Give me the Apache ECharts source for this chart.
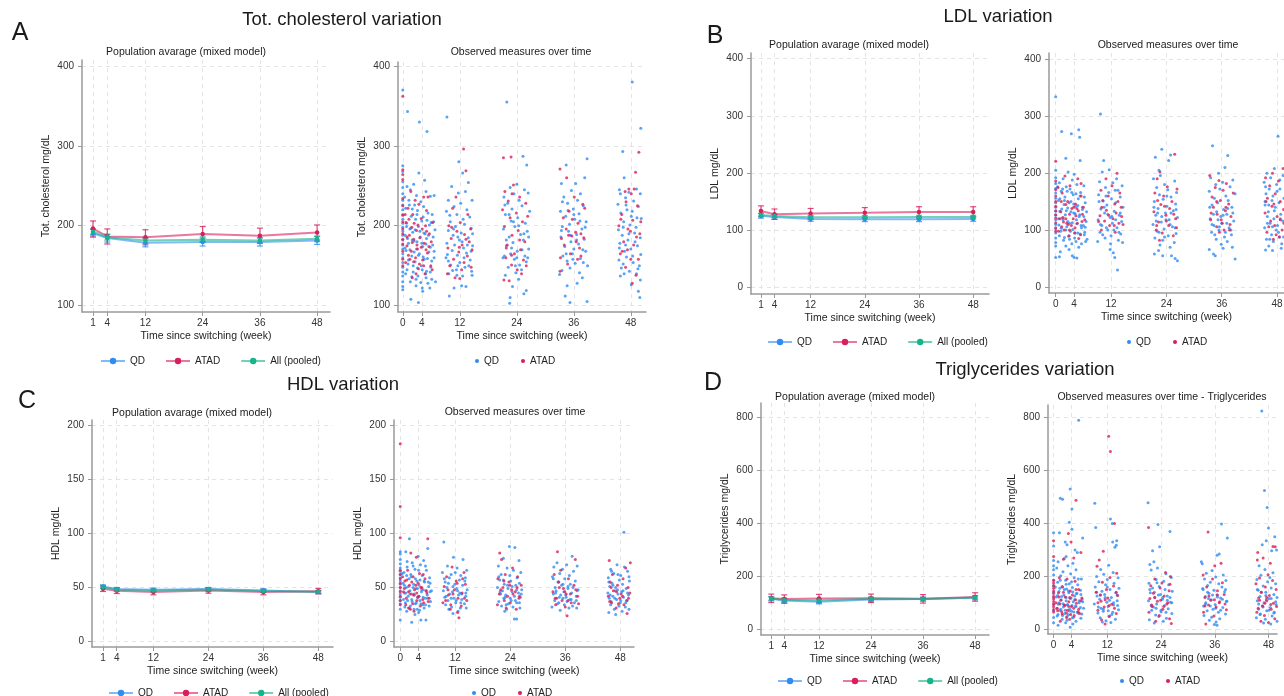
<!DOCTYPE html>
<html>
<head>
<meta charset="utf-8">
<title>Lipid variation</title>
<script src="https://cdn.jsdelivr.net/npm/echarts@6.0.0/dist/echarts.min.js"></script>
<style>
  html, body { margin: 0; padding: 0; background: #fff; }
  #chart { width: 1284px; height: 696px; }
</style>
</head>
<body>
<div id="chart"></div>
<script>
// ---- data ----
const weeksModel = [1, 4, 12, 24, 36, 48];
const ticksModel = [1, 4, 12, 24, 36, 48];
const ticksObs = [0, 4, 12, 24, 36, 48];
const groups = ['QD', 'ATAD', 'All (pooled)'];

// mixed model means and CI half widths (QD, ATAD, All)
const tcQD = [190, 184, 178, 179, 179, 181];
const tcATAD = [196, 186, 185, 189, 187, 191];
const tcAll = [192, 185, 181, 182, 181, 183];
const tcCi = [5, 9.5, 3.5];

const ldlQD = [125, 123, 119.5, 119, 119, 119.5];
const ldlATAD = [133.5, 128, 129, 130.5, 132, 132];
const ldlAll = [126.5, 125, 122.5, 122.5, 123, 123];
const ldlCi = [4, 9, 3];

const hdlQD = [50.8, 48.4, 47.8, 48.4, 47.2, 45.6];
const hdlATAD = [48.7, 46.8, 45.6, 47.1, 45.6, 46.5];
const hdlAll = [50.2, 47.9, 47, 48, 46.6, 45.9];
const hdlCi = [1.5, 2.5, 1.2];

const tgQD = [114, 108, 103, 112, 113, 118];
const tgATAD = [116, 113, 115, 116, 114, 121];
const tgAll = [115, 110, 108, 114, 113, 119];
const tgCi = [8, 16, 6];

// observed measures [week, value]
const tcObsQD = [
  [0,370],[0,275],[0,268],[0,255],[0,248],[0,240],[0,232],[0,226],[0,220],[0,214],[0,208],[0,203],[0,198],[0,193],[0,188],[0,182],[0,176],[0,171],[0,165],[0,160],[0,154],[0,148],[0,142],[0,137],[0,130],[0,124],[0,120],
  [1.0,343],[3.5,330],[5.1,318],[3.4,266],[4.6,257],[2.3,252],[0.9,249],[1.6,245],[4.9,243],[2.9,238],[5.8,237],[6.6,238],[1.3,232],[3.8,230],[2.5,226],[4.4,224],[0.6,222],[3.1,219],[5.3,216],[6.2,214],[1.8,212],[2.7,208],[4.0,206],[0.8,203],[5.6,201],[3.3,199],[1.5,196],[6.8,195],[2.1,192],[4.7,190],[0.5,188],[3.7,186],[5.0,184],[2.4,181],[1.2,178],[6.3,176],[4.2,174],[2.9,171],[0.7,169],[5.5,167],[3.5,165],[1.9,162],[6.6,160],[4.5,158],[2.6,155],[1.1,152],[3.9,150],[5.9,148],[0.9,145],[2.2,142],[4.8,140],[3.2,137],[6.1,133],[1.6,130],[5.3,128],[2.8,125],[4.1,122],[6.9,130],[1.7,108],[3.3,104],[4.2,118],[5.7,122],
  [0.4,236],[1.4,226],[2.0,221],[3.0,214],[4.3,211],[5.1,207],[6.0,204],[0.8,199],[1.7,197],[2.6,195],[3.6,193],[4.5,191],[5.4,188],[6.4,186],[1.0,184],[2.0,182],[3.0,180],[4.0,178],[4.9,177],[5.8,173],[0.5,172],[1.5,170],[2.4,167],[3.3,163],[4.3,161],[5.2,159],[6.1,156],[1.2,157],[2.2,150],[3.1,147],[4.1,145],[5.0,143],[0.6,140],[1.9,136],[2.8,133],[3.8,129],[4.9,135],[5.8,142],[6.6,168],[6.5,205],
  [9.3,336],[11.8,280],[12.6,266],[13.8,254],[10.3,249],[13.2,243],[11.7,241],[9.6,232],[14.6,232],[12.2,228],[10.8,224],[13.5,220],[9.2,218],[11.4,214],[14.1,211],[12.7,208],[10.0,205],[13.0,202],[11.1,199],[14.4,197],[9.6,194],[12.3,191],[10.6,188],[13.8,185],[11.9,182],[9.3,178],[14.7,175],[12.8,172],[10.4,169],[13.4,166],[11.5,163],[9.1,160],[14.2,157],[12.0,154],[10.1,151],[13.1,148],[11.3,145],[14.5,143],[9.7,140],[12.6,137],[10.8,122],[9.8,112],[13.3,124],[12.4,125],[14.6,138],[9.4,164],[10.9,176],[11.6,150],
  [9.9,213],[10.7,196],[11.6,186],[12.5,180],[13.6,176],[14.4,168],[9.6,156],[10.5,144],[11.4,138],[12.9,160],[13.9,150],[14.7,190],
  [21.9,355],[25.3,287],[26.1,276],[24.0,252],[22.6,248],[25.6,245],[23.4,240],[21.3,236],[26.4,241],[24.5,232],[22.1,228],[25.1,225],[23.0,221],[26.7,218],[21.6,214],[24.2,210],[22.8,206],[25.8,203],[23.6,199],[21.2,196],[26.2,193],[24.8,189],[22.4,186],[25.4,182],[23.2,179],[21.8,175],[26.5,171],[24.1,168],[22.7,165],[25.7,162],[23.5,158],[21.4,162],[26.0,155],[24.6,151],[22.2,148],[25.0,145],[23.8,141],[21.6,138],[24.4,133],[22.5,103],[22.6,110],[25.5,115],[26.0,119],[23.1,124],[21.1,160],
  [21.5,226],[22.4,214],[23.3,205],[24.4,200],[25.5,190],[26.5,186],[21.8,182],[22.9,172],[24.0,160],[25.1,170],[26.3,160],[23.7,150],
  [38.8,284],[34.4,276],[33.4,253],[36.4,253],[38.3,260],[35.5,244],[37.4,240],[33.9,236],[36.8,232],[34.7,228],[38.0,225],[35.9,221],[33.2,218],[37.1,215],[34.3,212],[36.2,208],[38.6,205],[35.1,202],[33.6,199],[37.7,196],[34.9,193],[36.6,189],[33.3,186],[38.2,183],[35.4,180],[37.0,177],[34.1,174],[36.0,171],[38.5,168],[35.7,165],[33.7,162],[37.4,159],[34.6,156],[36.3,153],[38.9,150],[35.2,147],[33.5,144],[37.2,141],[34.6,125],[36.7,128],[35.2,104],[34.2,112],[38.8,105],[37.8,135],[33.0,139],
  [33.6,230],[34.8,219],[36.0,214],[37.3,206],[38.4,198],[33.4,194],[35.3,188],[36.6,182],[37.9,170],[34.4,165],[35.8,158],[38.0,154],
  [48.3,380],[50.1,322],[46.3,293],[46.6,260],[49.2,246],[45.6,245],[47.6,242],[50.0,240],[46.9,235],[48.6,231],[45.3,227],[49.6,224],[47.2,220],[45.9,216],[48.1,212],[50.2,209],[46.5,205],[47.8,201],[49.1,198],[45.4,195],[48.8,191],[46.2,188],[50.0,185],[47.4,182],[45.7,178],[49.4,175],[48.0,171],[46.7,168],[50.1,164],[47.1,161],[45.5,157],[48.5,154],[49.8,150],[46.0,147],[47.7,143],[45.8,137],[49.2,140],[49.9,110],[49.6,118],[48.1,126],[50.0,132],[46.4,152],
  [45.8,240],[47.0,226],[48.3,218],[49.3,210],[46.4,198],[47.6,190],[48.9,180],[45.6,172],[46.9,176],[48.4,162],[49.5,146],[46.6,140]
];
const tcObsATAD = [
  [0,362],[0,270],[0,264],[0,258],[0,234],[0,225],[0,213],[0,205],[0,196],[0,190],[0,183],[0,177],[0,168],[0,158],[0,150],
  [1.7,243],[4.4,236],[5.3,236],[2.6,232],[3.4,227],[1.1,222],[5.0,219],[2.1,214],[3.9,209],[0.7,204],[4.8,200],[1.9,198],[2.9,194],[5.6,190],[1.4,188],[3.6,185],[2.3,183],[4.5,178],[0.9,175],[3.1,171],[5.2,166],[1.8,168],[2.7,160],[4.2,157],[5.9,150],[1.5,158],[3.3,146],[2.0,135],[4.7,140],[6.2,145],
  [0.5,214],[1.3,208],[2.4,203],[3.2,201],[4.1,196],[5.0,193],[6.0,180],[0.9,186],[2.0,179],[3.0,176],[3.9,173],[4.9,170],[1.2,163],[2.3,155],[3.5,152],[4.4,150],[5.5,174],[0.6,154],[2.8,140],[6.3,204],
  [12.8,296],[13.3,269],[11.2,236],[10.5,222],[13.7,214],[12.1,204],[9.7,200],[14.3,196],[11.4,193],[13.0,189],[10.2,184],[14.0,180],[12.5,176],[9.5,172],[11.8,167],[13.6,162],[10.7,158],[12.9,154],[14.4,148],[11.0,135],[12.0,134],[9.4,140],
  [10.3,198],[11.9,173],[13.3,183],[14.6,170],[9.9,150],[12.4,145],
  [21.2,285],[22.8,286],[23.3,251],[21.5,243],[24.6,236],[22.2,231],[25.9,228],[21.0,220],[23.9,216],[22.6,210],[25.2,205],[21.4,199],[24.3,194],[23.0,188],[25.7,180],[22.0,176],[24.8,170],[23.5,165],[21.7,160],[25.4,157],[22.9,151],[24.1,145],[21.3,132],[22.4,131],[26.0,150],
  [23.0,240],[26.3,212],[24.6,182],[21.8,172],[22.9,163],[25.0,140],
  [33.1,271],[34.5,260],[36.1,236],[37.9,227],[35.0,218],[33.8,210],[36.9,203],[34.4,196],[37.5,190],[35.6,187],[33.4,184],[36.5,180],[34.0,176],[37.2,172],[35.3,165],[33.2,160],[36.8,158],[34.7,152],[33.1,143],
  [38.3,222],[35.7,208],[36.4,192],[34.9,188],[38.1,185],[37.5,162],
  [49.7,292],[49.0,267],[47.6,246],[48.7,246],[46.8,243],[47.0,230],[49.4,225],[46.1,214],[48.4,207],[50.1,205],[45.5,200],[47.9,193],[49.2,186],[46.5,180],[48.6,176],[47.3,170],[45.8,165],[49.6,158],[46.9,148],[48.3,128],[49.1,138],
  [48.1,240],[45.9,208],[47.4,196],[49.9,190],[46.2,168],[48.0,158]
];

const ldlObsQD = [
  [0,334],[0,205],[0,192],[0,182],[0,173],[0,165],[0,156],[0,148],[0,140],[0,133],[0,126],[0,118],[0,110],[0,102],[0,95],[0,86],[0,78],[0,72],[0,52],
  [1.3,273],[3.4,269],[5.0,276],[5.2,263],[2.2,226],[5.3,222],[2.7,202],[4.0,198],[1.6,190],[3.6,188],[0.8,183],[4.6,180],[2.3,176],[6.1,178],[3.1,172],[1.2,168],[5.4,166],[3.8,162],[2.0,158],[4.9,155],[0.6,152],[3.3,150],[6.4,148],[1.8,145],[4.3,142],[2.6,139],[5.8,136],[0.9,133],[3.9,130],[2.1,127],[5.1,124],[1.4,121],[4.5,118],[6.6,115],[3.0,112],[0.7,109],[2.4,106],[5.6,104],[3.7,101],[1.1,98],[4.8,95],[6.2,92],[2.8,89],[4.1,86],[1.7,82],[6.5,80],[3.5,76],[2.2,72],[5.0,70],[1.0,62],[0.8,53],[3.6,55],[4.0,52],[4.6,51],[2.9,66],[6.8,84],[6.0,108],
  [0.4,176],[1.5,172],[2.5,168],[3.5,166],[4.4,164],[5.3,160],[6.2,158],[0.9,155],[1.9,152],[2.9,148],[3.9,146],[4.8,143],[5.8,140],[1.3,137],[2.3,134],[3.3,132],[4.2,129],[5.2,127],[6.1,124],[0.6,120],[1.6,118],[2.6,115],[3.6,113],[4.6,111],[5.5,108],[6.4,105],[1.2,103],[2.2,100],[3.2,98],[4.2,95],[5.3,93],[0.8,90],[1.9,87],[3.0,84],[4.4,80],[5.6,76],[6.3,96],[6.7,132],
  [9.7,304],[10.4,222],[11.6,206],[10.1,202],[13.2,190],[9.5,185],[12.4,183],[14.4,178],[10.8,175],[13.5,170],[11.5,166],[9.3,162],[14.0,158],[12.1,155],[10.3,151],[13.0,148],[11.1,144],[14.6,140],[9.8,137],[12.7,133],[10.6,130],[13.8,126],[11.8,122],[9.2,118],[14.3,115],[12.3,112],[10.0,108],[13.3,104],[11.3,100],[9.6,96],[14.1,93],[12.0,90],[10.7,86],[13.6,82],[9.1,80],[11.9,76],[12.5,60],[12.8,52],[13.4,30],[11.8,66],[14.5,78],[10.2,92],
  [9.4,150],[10.5,140],[11.3,128],[12.2,124],[13.0,118],[14.0,130],[9.7,110],[11.0,104],[12.6,100],[13.7,96],[10.9,160],[12.9,170],
  [23.0,242],[24.9,232],[24.5,222],[21.6,228],[22.4,205],[22.7,196],[21.2,190],[25.8,186],[23.6,180],[21.9,175],[24.3,171],[26.2,166],[22.5,162],[25.0,158],[23.3,154],[21.4,150],[26.0,146],[24.1,142],[22.2,138],[25.5,134],[23.8,130],[21.7,126],[26.4,122],[24.6,118],[22.9,114],[21.1,110],[25.3,106],[23.5,102],[22.0,98],[26.1,94],[24.4,90],[21.5,86],[23.2,82],[25.7,78],[22.6,74],[24.8,70],[21.4,58],[23.2,55],[25.1,55],[25.9,50],[26.4,46],[22.3,64],
  [21.3,140],[22.1,130],[23.0,124],[23.9,118],[24.8,110],[25.9,104],[22.4,96],[23.6,88],[25.0,130],[26.1,136],[21.8,116],[24.1,160],
  [34.0,248],[37.3,231],[36.7,210],[35.3,200],[33.6,192],[38.4,188],[36.2,184],[34.7,180],[37.8,176],[35.6,172],[33.3,168],[38.9,164],[36.9,160],[34.4,156],[37.4,152],[35.1,148],[33.9,144],[38.2,140],[36.4,136],[34.9,132],[37.1,128],[35.8,124],[33.5,120],[38.6,116],[36.0,112],[34.3,108],[37.6,104],[35.4,100],[33.8,96],[38.1,92],[36.6,88],[34.8,84],[37.2,80],[35.9,75],[38.3,70],[38.9,49],[33.3,66],[34.2,58],[34.6,55],[36.3,68],
  [33.4,140],[34.2,128],[35.2,118],[36.3,126],[37.3,138],[38.4,130],[33.9,110],[35.5,106],[37.1,112],[38.0,100],[34.5,92],[36.8,96],
  [48.2,265],[50.0,218],[47.4,208],[45.8,200],[49.3,196],[46.6,192],[48.6,188],[45.2,184],[47.9,180],[49.7,176],[46.3,172],[48.0,168],[45.6,164],[47.1,160],[49.5,156],[46.9,152],[48.4,148],[45.4,144],[47.6,140],[49.9,136],[46.1,132],[48.8,128],[45.9,124],[47.3,120],[49.2,116],[46.5,112],[48.1,108],[45.3,104],[47.8,100],[49.6,96],[46.8,92],[48.5,88],[45.7,84],[47.2,80],[49.0,76],[46.2,72],[48.9,68],[45.5,65],[47.0,64],[50.1,74],
  [45.4,150],[46.2,144],[47.4,134],[48.7,120],[49.6,140],[45.9,112],[47.0,106],[48.3,96],[49.4,88],[46.4,84],[45.5,176],[48.6,172]
];
const ldlObsATAD = [
  [0,221],[0,186],[0,171],[0,160],[0,150],[0,142],[0,134],[0,127],[0,121],[0,113],[0,104],[0,98],
  [2.0,195],[4.8,190],[5.5,182],[3.1,178],[1.4,165],[5.5,160],[2.6,150],[4.3,146],[3.9,140],[1.1,132],[4.4,125],[2.2,120],[5.7,115],[3.4,108],[1.8,100],[4.1,95],[2.9,90],[5.0,85],[0.6,98],[6.3,118],[3.0,128],[1.6,122],[2.4,112],[4.6,138],
  [0.5,175],[1.2,150],[2.2,145],[3.5,138],[4.9,134],[6.0,140],[0.9,120],[1.7,114],[2.7,110],[3.8,120],[4.7,112],[5.8,128],[1.3,106],[3.0,100],[4.2,104],[5.4,92],
  [13.3,200],[10.9,190],[12.2,178],[9.8,170],[13.9,165],[11.4,160],[10.2,152],[12.8,146],[14.2,140],[11.0,135],[13.1,130],[9.6,125],[12.4,120],[10.6,116],[13.7,112],[11.7,108],[9.9,100],[12.9,96],[14.6,110],
  [10.0,140],[11.5,126],[13.5,150],[12.7,108],[14.3,124],[9.3,115],
  [25.8,233],[22.6,202],[22.0,190],[24.2,176],[26.3,172],[21.5,165],[23.4,160],[25.2,150],[22.8,145],[24.7,138],[21.3,132],[23.9,126],[26.0,120],[22.3,114],[24.5,108],[21.8,100],[23.1,95],[25.5,90],[22.5,82],
  [22.1,152],[23.6,142],[25.6,128],[24.0,116],[21.9,108],[26.2,104],
  [33.4,196],[35.4,187],[37.0,182],[34.6,175],[36.3,170],[38.5,165],[33.9,158],[35.7,152],[37.5,146],[34.2,140],[36.8,134],[35.0,128],[38.0,124],[33.6,118],[36.1,112],[34.9,106],[37.7,100],[35.5,96],
  [34.9,150],[36.9,140],[33.7,130],[35.9,118],[37.8,110],[36.5,100],
  [49.3,208],[47.0,200],[45.5,192],[48.3,186],[46.4,178],[49.8,170],[47.6,164],[45.9,156],[48.7,150],[46.9,142],[49.4,136],[45.4,130],[48.0,124],[46.6,116],[47.5,108],[49.1,100],[45.8,96],[48.5,88],[47.2,84],[49.9,80],
  [45.6,150],[47.3,146],[48.7,118],[46.2,106],[49.5,112],[47.8,92]
];

const hdlObsQD = [
  [0,83],[0,81],[0,76],[0,72],[0,68],[0,65],[0,62],[0,59],[0,56],[0,53],[0,50],[0,47],[0,44],[0,41],[0,38],[0,35],[0,30],[0,20],
  [2.0,95],[1.2,83],[6.0,86],[3.9,79],[5.1,75],[2.6,73],[4.4,71],[1.5,69],[3.2,67],[5.7,66],[0.8,64],[2.3,62],[4.8,61],[6.4,59],[1.9,58],[3.6,56],[5.3,55],[0.6,54],[2.9,53],[4.1,52],[6.2,51],[1.3,50],[3.4,49],[5.0,48],[2.1,47],[4.6,46],[0.9,45],[3.0,44],[5.9,43],[1.7,42],[3.8,41],[5.5,40],[2.5,39],[4.3,38],[6.6,37],[1.1,36],[3.3,35],[4.9,34],[2.2,33],[5.2,31],[3.7,30],[1.4,28],[4.0,27],[2.5,18],[4.5,20],[5.6,20],[3.2,25],[6.8,47],[6.5,54],
  [0.4,63],[1.4,61],[2.4,60],[3.3,58],[4.3,57],[5.2,56],[6.1,55],[0.9,52],[1.8,51],[2.8,50],[3.7,49],[4.7,48],[5.7,47],[6.5,46],[1.2,45],[2.1,44],[3.1,43],[4.1,42],[5.0,41],[6.0,40],[0.7,39],[1.6,38],[2.6,37],[3.5,36],[4.5,35],[5.5,34],[6.3,33],[1.0,32],[2.0,31],[3.0,30],[4.2,29],[2.8,70],[4.0,66],[5.5,70],[1.5,74],
  [9.5,92],[11.6,78],[13.7,76],[10.3,70],[12.4,68],[14.5,66],[9.2,64],[11.1,62],[13.2,61],[10.7,59],[12.9,57],[14.1,56],[9.8,55],[11.9,53],[13.6,52],[10.2,50],[12.3,49],[14.6,48],[9.4,47],[11.4,46],[13.0,45],[10.8,44],[12.7,43],[14.3,42],[9.7,41],[11.7,40],[13.4,39],[10.4,38],[12.1,36],[14.0,35],[9.9,34],[11.2,32],[13.1,31],[10.6,30],[12.6,28],[14.4,31],[11.5,26],
  [9.6,58],[10.5,54],[11.5,51],[12.5,47],[13.4,44],[14.3,45],[10.0,42],[11.1,40],[12.2,38],[13.2,36],[14.2,59],[12.0,64],
  [23.8,88],[25.0,87],[22.5,77],[25.9,75],[21.4,70],[23.3,68],[24.7,66],[26.3,64],[22.0,62],[23.9,61],[25.5,59],[21.7,57],[24.1,56],[26.0,54],[22.7,53],[25.2,52],[21.2,50],[23.5,49],[26.5,48],[22.3,47],[24.4,46],[25.8,45],[21.9,44],[23.0,43],[24.9,42],[26.2,41],[22.6,40],[24.2,38],[21.5,37],[25.4,36],[23.6,35],[22.1,33],[24.6,32],[26.1,31],[23.2,30],[24.9,21],[25.4,21],[22.8,28],
  [21.5,60],[22.5,57],[23.4,52],[24.4,51],[25.4,48],[26.4,44],[21.8,46],[22.9,41],[24.0,40],[25.1,38],[26.0,36],[23.1,34],
  [37.5,79],[34.2,73],[36.3,71],[38.6,70],[33.5,69],[35.4,67],[37.8,65],[34.8,63],[36.9,61],[33.2,60],[35.9,58],[38.2,56],[34.5,55],[37.1,53],[35.2,52],[33.8,50],[36.6,49],[38.8,48],[34.0,47],[35.7,46],[37.4,45],[33.4,44],[36.1,43],[38.4,42],[34.7,41],[35.5,40],[37.0,39],[33.7,38],[36.4,37],[38.0,36],[34.3,35],[35.8,34],[37.6,33],[33.1,32],[36.8,31],[38.5,31],[34.9,29],
  [33.4,58],[34.4,55],[35.5,53],[36.6,51],[37.7,50],[38.6,47],[33.9,45],[35.0,43],[36.2,41],[37.3,39],[38.4,38],[34.6,36],
  [48.8,101],[47.3,71],[48.9,69],[45.9,67],[49.6,65],[46.6,63],[48.1,61],[45.4,59],[47.8,57],[50.0,56],[46.2,54],[48.5,53],[45.7,51],[47.0,50],[49.3,49],[46.9,47],[48.3,46],[45.3,45],[47.5,44],[49.8,43],[46.4,42],[48.7,41],[45.6,40],[47.2,39],[49.5,38],[46.0,37],[48.0,36],[45.9,34],[47.7,33],[49.1,32],[46.7,30],[48.4,28],[47.0,25],[49.9,30],[45.5,27],
  [45.5,55],[46.4,52],[47.4,48],[48.6,47],[49.6,45],[45.8,43],[46.8,40],[48.1,38],[49.2,36],[47.5,62],[46.1,65],[49.9,60]
];
const hdlObsATAD = [
  [0,183],[0,125],[0,96],[0,66],[0,62],[0,58],[0,54],[0,50],[0,46],[0,42],[0,38],[0,34],
  [6.0,95],[2.3,82],[3.5,78],[1.6,66],[4.2,63],[2.8,60],[5.4,58],[1.0,56],[3.9,54],[2.0,52],[4.7,50],[3.1,48],[0.7,46],[5.8,45],[2.4,44],[4.0,42],[1.3,40],[3.6,38],[5.1,36],[2.7,35],[4.4,33],[1.8,31],[6.3,40],[3.0,28],
  [0.5,60],[1.4,57],[2.5,55],[3.4,52],[4.5,50],[5.6,47],[0.9,49],[1.8,46],[2.9,43],[3.8,41],[4.9,39],[6.1,37],[1.2,34],[2.2,30],[3.6,45],[5.0,62],
  [12.8,22],[12.5,27],[11.3,69],[13.9,64],[10.1,60],[12.2,56],[14.2,53],[9.6,51],[11.8,48],[13.5,45],[10.5,43],[12.6,40],[14.5,38],[9.3,36],[11.0,34],[13.3,33],[10.9,30],
  [10.4,48],[11.5,44],[12.4,54],[13.6,58],[14.0,40],[9.9,38],
  [21.7,82],[22.1,76],[24.5,68],[22.9,62],[25.6,60],[21.3,58],[23.7,55],[26.4,52],[22.4,50],[24.3,48],[25.1,46],[21.6,44],[23.4,42],[25.9,40],[22.7,38],[24.0,36],[21.2,34],[23.1,31],[25.3,30],
  [22.6,56],[23.9,52],[25.5,50],[21.9,48],[24.6,44],[26.0,42],
  [34.3,83],[38.2,76],[35.0,66],[33.6,62],[36.7,58],[34.6,55],[37.9,52],[35.6,49],[33.3,46],[36.2,44],[38.7,42],[34.1,40],[35.3,38],[37.3,36],[33.9,34],[36.0,32],[36.4,24],[38.9,35],
  [34.7,50],[35.9,46],[37.1,44],[38.3,48],[33.8,40],[36.6,38],
  [45.6,75],[50.2,73],[49.2,68],[46.3,62],[48.6,58],[45.8,55],[47.4,52],[49.7,50],[46.5,47],[48.2,44],[45.4,42],[47.9,40],[49.4,38],[46.1,36],[48.8,34],[47.1,31],[49.5,26],[50.1,45],
  [46.0,50],[47.2,46],[48.5,42],[49.8,40],[45.7,37],[47.6,35]
];

const tgObsQD = [
  [0,365],[0,315],[0,260],[0,240],[0,225],[0,205],[0,185],[0,165],[0,140],[0,120],[0,95],[0,70],[0,45],[0,25],
  [5.6,790],[3.7,530],[1.5,495],[2.0,492],[4.1,455],[3.5,405],[4.1,378],[1.3,365],[6.5,345],[2.6,330],[3.0,320],[4.8,300],[5.3,290],[2.8,275],[2.4,268],[1.0,255],[4.3,250],[3.2,240],[0.7,232],[5.0,225],[2.1,218],[3.8,210],[1.6,202],[4.6,195],[6.2,190],[2.7,185],[0.9,178],[3.5,172],[5.4,168],[1.9,162],[4.2,158],[2.9,152],[6.0,148],[1.2,143],[3.4,138],[5.1,134],[2.3,130],[4.7,126],[0.6,122],[3.9,118],[6.4,115],[1.7,112],[2.8,108],[4.4,104],[5.7,100],[1.0,96],[3.1,92],[4.9,88],[2.2,84],[6.7,80],[3.6,76],[1.4,72],[4.0,68],[5.3,64],[2.5,60],[3.3,55],[0.8,50],[4.5,46],[6.1,42],[1.9,38],[3.0,34],[5.0,30],[2.7,25],[3.7,8],[1.0,15],[4.3,20],
  [0.4,160],[1.4,155],[2.4,150],[3.3,145],[4.3,141],[5.2,136],[6.1,132],[0.9,128],[1.8,124],[2.8,120],[3.7,116],[4.7,112],[5.7,108],[6.5,104],[1.2,100],[2.1,97],[3.1,94],[4.1,90],[5.0,86],[6.0,82],[0.7,79],[1.6,76],[2.6,72],[3.5,69],[4.5,65],[5.5,62],[6.3,58],[1.0,56],[2.0,52],[3.0,48],[4.2,44],[2.8,170],[4.0,180],[5.5,190],[1.5,185],
  [9.2,477],[9.4,385],[12.7,417],[13.1,400],[14.1,335],[14.0,318],[13.2,330],[13.7,310],[12.3,242],[10.5,226],[13.3,215],[11.2,208],[9.6,200],[14.4,195],[12.0,188],[10.1,180],[13.5,174],[11.6,168],[9.3,160],[14.6,155],[12.6,150],[10.8,144],[13.9,138],[11.4,132],[9.7,126],[12.9,120],[10.3,114],[14.2,108],[11.9,102],[9.1,96],[13.4,92],[12.2,86],[10.6,80],[14.5,74],[11.1,68],[9.9,62],[13.0,56],[12.5,50],[10.4,44],[13.8,38],[11.7,32],[12.8,26],[10.9,28],
  [9.6,140],[10.5,130],[11.5,120],[12.5,110],[13.4,100],[14.3,90],[10.0,84],[11.1,76],[12.2,70],[13.2,64],[14.2,130],[12.0,160],
  [21.1,478],[23.3,396],[26.0,370],[22.1,297],[23.7,312],[21.5,245],[22.4,255],[23.2,232],[21.8,224],[25.1,210],[26.3,196],[22.9,188],[24.6,182],[21.3,174],[25.7,168],[23.6,162],[22.1,156],[24.9,150],[26.5,144],[21.6,138],[23.9,132],[25.4,126],[22.6,120],[24.3,114],[21.2,108],[26.1,102],[23.0,96],[24.8,90],[22.3,84],[25.6,78],[21.9,72],[24.0,66],[26.4,60],[22.8,54],[23.5,48],[25.2,42],[21.4,36],[24.5,30],[22.5,24],
  [21.5,150],[22.5,140],[23.4,130],[24.4,120],[25.4,110],[26.4,100],[21.8,90],[22.9,80],[24.0,72],[25.1,64],[26.0,120],[23.1,176],
  [37.5,398],[38.8,345],[33.0,255],[33.2,248],[37.0,285],[36.5,280],[35.4,222],[34.1,212],[37.9,205],[36.2,198],[33.7,190],[38.5,184],[35.0,178],[36.9,172],[34.4,166],[37.6,160],[33.3,154],[35.8,148],[38.2,142],[34.7,136],[36.5,130],[33.9,124],[37.3,118],[35.2,112],[38.7,106],[34.0,100],[36.1,94],[33.5,88],[37.8,82],[35.6,76],[34.3,70],[36.8,64],[38.4,58],[33.6,52],[35.3,46],[37.1,40],[34.8,34],[36.3,28],[35.9,18],[36.5,15],
  [33.4,150],[34.4,140],[35.5,130],[36.6,122],[37.7,114],[38.6,106],[33.9,96],[35.0,88],[36.2,80],[37.3,72],[38.4,150],[34.6,116],
  [46.5,825],[47.1,525],[47.7,460],[48.0,383],[46.6,320],[47.5,335],[49.4,350],[50.0,268],[49.8,300],[48.7,297],[45.9,240],[47.2,226],[49.0,214],[46.3,204],[48.3,196],[45.4,188],[47.8,180],[49.6,172],[46.8,164],[48.6,156],[45.7,148],[47.4,140],[49.2,132],[46.1,124],[48.1,116],[45.5,108],[47.0,100],[49.7,94],[46.6,88],[48.4,82],[45.8,76],[47.6,70],[49.3,64],[46.2,58],[48.8,50],[45.3,44],[47.3,38],[49.9,30],[46.9,24],[48.5,20],[50.1,110],
  [45.5,150],[46.4,140],[47.4,128],[48.6,116],[49.6,104],[45.8,96],[46.8,84],[48.1,72],[49.2,62],[47.5,112],[46.1,56],[49.9,120]
];
const tgObsATAD = [
  [0,335],[0,275],[0,185],[0,175],[0,165],[0,155],[0,145],[0,135],[0,125],[0,115],[0,105],[0,95],[0,85],[0,75],[0,65],
  [5.0,488],[3.3,362],[3.9,330],[4.5,270],[6.1,290],[2.2,265],[1.3,195],[3.0,190],[4.8,182],[2.0,160],[5.6,150],[3.7,145],[1.1,138],[4.2,130],[2.6,122],[6.3,118],[1.6,110],[3.4,104],[5.1,98],[2.4,92],[4.0,86],[0.8,80],[3.1,72],[5.5,66],[1.9,58],[4.6,52],[2.9,45],[3.6,38],[1.5,30],[5.8,60],
  [0.5,100],[1.4,96],[2.5,90],[3.4,86],[4.5,80],[5.6,76],[0.9,70],[1.8,66],[2.9,62],[3.8,56],[4.9,112],[6.1,108],[1.2,122],[2.2,140],[3.6,120],[5.0,150],
  [12.3,730],[12.7,672],[13.6,400],[11.1,295],[10.2,262],[9.7,238],[14.1,212],[12.6,196],[10.9,178],[13.4,164],[11.8,150],[9.5,140],[14.3,128],[12.1,118],[10.6,106],[13.0,95],[11.3,84],[9.9,72],[14.0,60],[12.4,48],[10.7,36],[11.5,20],
  [10.4,130],[11.5,112],[12.4,90],[13.6,80],[14.0,140],[9.9,100],
  [21.2,385],[25.0,215],[26.1,200],[22.6,190],[24.2,175],[21.7,165],[23.8,156],[25.8,146],[22.3,136],[24.7,126],[21.5,116],[23.2,106],[25.3,96],[22.0,86],[24.4,76],[21.3,64],[23.6,52],[25.9,40],[22.8,30],[26.3,22],
  [22.6,120],[23.9,110],[25.5,100],[21.9,92],[24.6,86],[26.0,170],
  [34.5,368],[37.4,250],[36.0,240],[33.4,205],[35.5,190],[37.7,176],[34.2,160],[36.6,146],[38.1,132],[33.8,120],[35.1,110],[37.0,100],[34.6,92],[36.3,84],[38.6,74],[33.5,64],[35.8,50],[34.0,20],
  [34.7,126],[35.9,112],[37.1,104],[38.3,96],[33.8,88],[36.6,130],
  [45.6,290],[45.5,262],[49.0,313],[48.4,250],[46.8,270],[49.5,312],[47.9,206],[46.0,194],[48.9,184],[45.2,172],[47.3,160],[49.7,150],[46.4,140],[48.2,128],[45.8,118],[47.6,108],[49.1,98],[46.7,88],[48.6,76],[45.4,64],[47.1,52],[49.4,40],[46.3,30],[48.0,26],
  [46.0,110],[47.2,98],[48.5,94],[49.8,86],[45.7,80],[47.6,120]
];

const yTicksTc = [100, 200, 300, 400];
const yTicksLdl = [0, 100, 200, 300, 400];
const yTicksHdl = [0, 50, 100, 150, 200];
const yTicksTg = [0, 200, 400, 600, 800];

// ---- layout (A left, A right, B left, B right, C left, C right, D left, D right) ----
const FONT = '"Liberation Sans", Arial, sans-serif';
const colors = ['#2f8cf2', '#d81e5b', '#17b38a'];
const layout = [
  { left: 82, top: 60, width: 248, height: 252, x: [-1.3, 50.7], y: [91, 408], leg: [95, 351] },
  { left: 398, top: 62, width: 248, height: 250, x: [-1, 51.2], y: [92, 405], leg: [470, 351] },
  { left: 751, top: 53, width: 238, height: 241, x: [-1.2, 51.5], y: [-11.7, 410], leg: [762, 332] },
  { left: 1049, top: 53, width: 235, height: 240, x: [-1.45, 49.5], y: [-10.5, 411], leg: [1122, 332] },
  { left: 92, top: 420, width: 241, height: 227, x: [-1.4, 51.2], y: [-5.2, 204.9], leg: [103, 683] },
  { left: 394, top: 420, width: 240, height: 227, x: [-1.37, 51], y: [-5, 204.9], leg: [467, 683] },
  { left: 761, top: 403, width: 228, height: 232, x: [-1.37, 51.2], y: [-22.6, 854], leg: [772, 671] },
  { left: 1048, top: 405, width: 229, height: 229, x: [-1.25, 49.9], y: [-17.8, 848], leg: [1115, 671] }
];
const yTicks = [yTicksTc, yTicksTc, yTicksLdl, yTicksLdl, yTicksHdl, yTicksHdl, yTicksTg, yTicksTg];
const yNames = ['Tot. cholesterol mg/dL', 'Tot. cholestero mg/dL', 'LDL mg/dL', 'LDL mg/dL',
  'HDL mg/dL', 'HDL mg/dL', 'Triglycerides mg/dL', 'Triglycerides mg/dL'];

const models = [
  { idx: 0, means: [tcQD, tcATAD, tcAll], ci: tcCi },
  { idx: 2, means: [ldlQD, ldlATAD, ldlAll], ci: ldlCi },
  { idx: 4, means: [hdlQD, hdlATAD, hdlAll], ci: hdlCi },
  { idx: 6, means: [tgQD, tgATAD, tgAll], ci: tgCi }
];
const observed = [
  { idx: 1, qd: tcObsQD, atad: tcObsATAD },
  { idx: 3, qd: ldlObsQD, atad: ldlObsATAD },
  { idx: 5, qd: hdlObsQD, atad: hdlObsATAD },
  { idx: 7, qd: tgObsQD, atad: tgObsATAD }
];

const texts = [
  ['A', 20, 33, 25], ['Tot. cholesterol variation', 342, 20, 18.5],
  ['Population avarage (mixed model)', 186, 52, 10.5], ['Observed measures over time', 521, 52, 10.5],
  ['B', 715, 36, 25], ['LDL variation', 998, 17, 18.5],
  ['Population avarage (mixed model)', 849, 45, 10.5], ['Observed measures over time', 1168, 45, 10.5],
  ['C', 27, 401, 25], ['HDL variation', 343, 385, 18.5],
  ['Population avarage (mixed model)', 192, 413, 10.5], ['Observed measures over time', 515, 412, 10.5],
  ['D', 713, 383, 25], ['Triglycerides variation', 1025, 370, 18.5],
  ['Population average (mixed model)', 855, 397, 10.5], ['Observed measures over time - Triglycerides', 1162, 397, 10.5]
];

// error bars drawn on the axis scale
function ciSeries(idx, color, mean, half) {
  return {
    type: 'custom', name: 'ci', xAxisIndex: idx, yAxisIndex: idx, silent: true, z: 3,
    data: weeksModel.map((w, i) => [w, mean[i] - half, mean[i] + half]),
    encode: { x: 0, y: [1, 2] },
    renderItem: function (params, api) {
      const lo = api.coord([api.value(0), api.value(1)]);
      const hi = api.coord([api.value(0), api.value(2)]);
      const st = { stroke: color, lineWidth: 1.2, opacity: 0.8 };
      return {
        type: 'group', children: [
          { type: 'line', shape: { x1: lo[0], y1: lo[1], x2: hi[0], y2: hi[1] }, style: st },
          { type: 'line', shape: { x1: lo[0] - 3, y1: lo[1], x2: lo[0] + 3, y2: lo[1] }, style: st },
          { type: 'line', shape: { x1: hi[0] - 3, y1: hi[1], x2: hi[0] + 3, y2: hi[1] }, style: st }
        ]
      };
    }
  };
}

const series = [];
models.forEach(m => {
  groups.forEach((g, k) => {
    series.push({
      type: 'line', name: g, xAxisIndex: m.idx, yAxisIndex: m.idx, z: 4,
      data: weeksModel.map((w, i) => [w, m.means[k][i]]),
      symbol: 'circle', symbolSize: 4.5, showSymbol: true,
      itemStyle: { color: colors[k] },
      lineStyle: { color: colors[k], width: 2, opacity: 0.6 }
    });
    series.push(ciSeries(m.idx, colors[k], m.means[k], m.ci[k]));
  });
});
observed.forEach(o => {
  series.push({ type: 'scatter', name: 'QD', xAxisIndex: o.idx, yAxisIndex: o.idx, data: o.qd,
    symbolSize: 3, itemStyle: { color: colors[0] } });
  series.push({ type: 'scatter', name: 'ATAD', xAxisIndex: o.idx, yAxisIndex: o.idx, data: o.atad,
    symbolSize: 3, itemStyle: { color: '#dc1f58' } });
});

const axisCol = '#9a9a9a';
const option = {
  backgroundColor: '#fff',
  animation: false,
  textStyle: { fontFamily: FONT },
  graphic: texts.map(t => ({
    type: 'text', x: t[1], y: t[2], silent: true,
    style: { text: t[0], fill: '#1a1a1a', fontSize: t[3], fontFamily: FONT,
      align: 'center', verticalAlign: 'middle', textAlign: 'center', textVerticalAlign: 'middle' }
  })),
  grid: layout.map(L => ({ left: L.left, top: L.top, width: L.width, height: L.height, outerBoundsMode: 'none' })),
  xAxis: layout.map((L, i) => {
    const ticks = i % 2 ? ticksObs : ticksModel;
    return {
      type: 'value', gridIndex: i, min: L.x[0], max: L.x[1],
      name: 'Time since switching (week)', nameLocation: 'middle', nameGap: 19,
      nameTextStyle: { fontSize: 10.5, color: '#222', fontFamily: FONT },
      axisLine: { show: true, onZero: false, lineStyle: { color: axisCol, width: 1.5 } },
      axisTick: { show: true, length: 4, customValues: ticks, lineStyle: { color: axisCol } },
      axisLabel: { customValues: ticks, fontSize: 10, color: '#333', margin: 6, fontFamily: FONT },
      splitLine: { show: true, lineStyle: { type: [4, 4], color: '#e4e4e4' } }
    };
  }),
  yAxis: layout.map((L, i) => ({
    type: 'value', gridIndex: i, min: L.y[0], max: L.y[1],
    name: yNames[i], nameLocation: 'middle', nameGap: 30,
    nameTextStyle: { fontSize: 10.5, color: '#222', fontFamily: FONT },
    axisLine: { show: true, onZero: false, lineStyle: { color: axisCol, width: 1.5 } },
    axisTick: { show: true, length: 4, customValues: yTicks[i], lineStyle: { color: axisCol } },
    axisLabel: { customValues: yTicks[i], fontSize: 10, color: '#333', margin: 8, fontFamily: FONT },
    splitLine: { show: true, lineStyle: { type: [4, 4], color: '#e4e4e4' } }
  })),
  legend: layout.map((L, i) => i % 2 ? {
    left: L.leg[0], top: L.leg[1], itemWidth: 4, itemHeight: 4, itemGap: 22,
    data: [{ name: 'QD', icon: 'circle' }, { name: 'ATAD', icon: 'circle' }],
    textStyle: { fontSize: 10, color: '#222', fontFamily: FONT }, selectedMode: false
  } : {
    left: L.leg[0], top: L.leg[1], itemWidth: 24, itemHeight: 8, itemGap: 20,
    data: groups,
    textStyle: { fontSize: 10, color: '#222', fontFamily: FONT }, selectedMode: false
  }),
  series: series
};

const myChart = echarts.init(document.getElementById('chart'));
myChart.setOption(option);
</script>
</body>
</html>
